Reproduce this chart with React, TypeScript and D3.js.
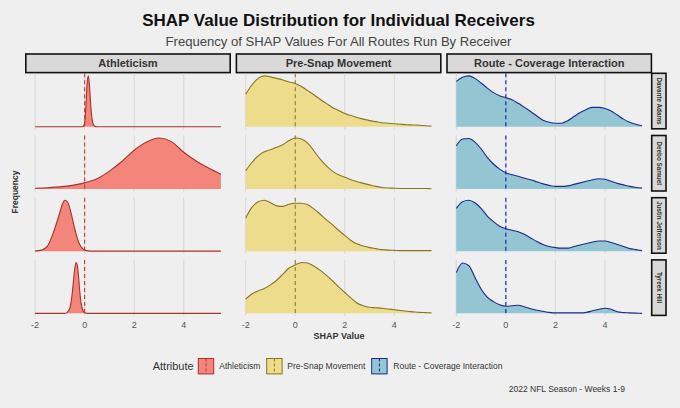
import * as d3 from "d3";

// ---- data (density scaled 0..1 per panel) ----
const receivers = ["Davante Adams", "Deebo Samuel", "Justin Jefferson", "Tyreek Hill"];
const attributes = ["Athleticism", "Pre-Snap Movement", "Route - Coverage Interaction"];
const xTicks = [-2, 0, 2, 4];

const grid025 = [
  -2, -1.75, -1.5, -1.25, -1, -0.75, -0.5, -0.25, 0, 0.25, 0.5, 0.75, 1, 1.25, 1.5, 1.75, 2,
  2.25, 2.5, 2.75, 3, 3.25, 3.5, 3.75, 4, 4.25, 4.5, 4.75, 5, 5.25, 5.5,
];

// Athleticism
const athAdamsX = [-2, -0.1, -0.05, 0, 0.05, 0.1, 0.15, 0.2, 0.25, 0.3, 0.35, 0.4, 0.5, 5.5];
const athAdamsY = [0, 0, 0.01, 0.08, 0.4, 0.85, 1.0, 0.78, 0.4, 0.15, 0.05, 0.015, 0, 0];
const athSamuelX = [-2, -1.5, -1, -0.5, 0, 0.5, 1, 1.5, 2, 2.5, 3, 3.5, 4, 4.5, 5, 5.5];
const athSamuelY = [0.015, 0.025, 0.04, 0.07, 0.12, 0.2, 0.35, 0.54, 0.76, 0.92, 1.0, 0.93, 0.72, 0.55, 0.41, 0.29];
const athJeffersonX = [-2, -1.75, -1.5, -1.25, -1, -0.9, -0.8, -0.7, -0.6, -0.5, -0.4, -0.3, -0.2, -0.1, 0, 0.25, 5.5];
const athJeffersonY = [0.005, 0.02, 0.1, 0.38, 0.76, 0.92, 1.0, 0.97, 0.85, 0.65, 0.44, 0.26, 0.13, 0.06, 0.02, 0, 0];
const athHillX = [-2, -0.8, -0.7, -0.6, -0.5, -0.45, -0.4, -0.35, -0.3, -0.25, -0.2, -0.15, -0.1, -0.05, 0, 0.1, 5.5];
const athHillY = [0, 0, 0.02, 0.1, 0.4, 0.65, 0.88, 1.0, 0.95, 0.75, 0.45, 0.22, 0.1, 0.04, 0.01, 0, 0];

// Pre-Snap Movement (on grid025)
const preAdams = [0.64, 0.82, 0.95, 1.0, 0.98, 0.95, 0.92, 0.88, 0.85, 0.79, 0.71, 0.63, 0.54, 0.46, 0.38, 0.32, 0.26, 0.22, 0.18, 0.15, 0.12, 0.1, 0.08, 0.07, 0.06, 0.05, 0.04, 0.035, 0.03, 0.02, 0.015];
const preSamuel = [0.36, 0.52, 0.65, 0.73, 0.77, 0.82, 0.87, 0.95, 1.0, 0.98, 0.9, 0.75, 0.59, 0.46, 0.35, 0.28, 0.23, 0.18, 0.14, 0.11, 0.08, 0.05, 0.03, 0.02, 0.015, 0.01, 0.01, 0.01, 0.01, 0.008, 0.005];
const preJefferson = [0.65, 0.86, 0.97, 1.0, 0.95, 0.89, 0.88, 0.92, 0.94, 0.94, 0.91, 0.83, 0.73, 0.62, 0.52, 0.41, 0.31, 0.21, 0.14, 0.1, 0.07, 0.05, 0.03, 0.02, 0.015, 0.01, 0.01, 0.01, 0.01, 0.01, 0.01];
const preHill = [0.28, 0.38, 0.44, 0.49, 0.56, 0.65, 0.77, 0.89, 0.95, 1.0, 0.99, 0.93, 0.85, 0.75, 0.64, 0.52, 0.41, 0.3, 0.2, 0.15, 0.12, 0.11, 0.1, 0.085, 0.07, 0.055, 0.04, 0.03, 0.02, 0.015, 0.01];

// Route - Coverage Interaction (on grid025)
const routeAdams = [0.89, 0.97, 1.0, 0.95, 0.86, 0.76, 0.67, 0.61, 0.57, 0.53, 0.46, 0.38, 0.3, 0.21, 0.13, 0.09, 0.07, 0.07, 0.12, 0.2, 0.28, 0.34, 0.38, 0.38, 0.36, 0.31, 0.23, 0.15, 0.09, 0.05, 0.02];
const routeSamuel = [0.85, 0.98, 0.99, 0.92, 0.79, 0.62, 0.49, 0.39, 0.32, 0.28, 0.25, 0.21, 0.18, 0.14, 0.1, 0.07, 0.05, 0.05, 0.06, 0.09, 0.12, 0.15, 0.18, 0.2, 0.19, 0.15, 0.11, 0.08, 0.05, 0.03, 0.02];
const routeJefferson = [0.84, 0.97, 1.0, 0.95, 0.84, 0.69, 0.58, 0.49, 0.44, 0.41, 0.38, 0.33, 0.26, 0.19, 0.13, 0.09, 0.07, 0.06, 0.06, 0.09, 0.12, 0.15, 0.18, 0.2, 0.2, 0.17, 0.13, 0.09, 0.05, 0.03, 0.01];
const routeHill = [0.8, 0.99, 0.94, 0.71, 0.48, 0.32, 0.23, 0.17, 0.14, 0.15, 0.16, 0.13, 0.09, 0.06, 0.04, 0.02, 0.01, 0.01, 0.01, 0.01, 0.01, 0.02, 0.05, 0.08, 0.1, 0.08, 0.03, 0.015, 0.01, 0.005, 0];

const fills = ["#f3857a", "#ecdc8c", "#93c5d3"];
const strokes = ["#a8312c", "#857523", "#1b2a8c"];
const dashColors = ["#c7372c", "#8d7c25", "#0d1fa0"];

type Pt = [number, number];
const zip = (xs: number[], ys: number[]): Pt[] => xs.map((x, i) => [x, ys[i]]);

// series[row][col]
const series: Pt[][][] = [
  [zip(athAdamsX, athAdamsY), zip(grid025, preAdams), zip(grid025, routeAdams)],
  [zip(athSamuelX, athSamuelY), zip(grid025, preSamuel), zip(grid025, routeSamuel)],
  [zip(athJeffersonX, athJeffersonY), zip(grid025, preJefferson), zip(grid025, routeJefferson)],
  [zip(athHillX, athHillY), zip(grid025, preHill), zip(grid025, routeHill)],
];

const W = 680;
const H = 408;
const FONT = "'Liberation Sans', Arial, Helvetica, sans-serif";

// layout
const colX = [25.8, 236.4, 447.0];
const panelW = 204.4;
const rowTop = 73.3;
const rowStep = 62.2;
const panelH = 56;
const stripTop = 54;
const stripH = 18.6;
const rStripX = 651.7;
const rStripW = 14.3;

export default function App() {
  const x = d3.scaleLinear().domain([-2.375, 5.875]).range([0, panelW]);
  const y = d3.scaleLinear().domain([-0.05, 1.05]).range([panelH, 0]);

  const area = d3
    .area<Pt>()
    .x((d) => x(d[0]))
    .y0(y(0))
    .y1((d) => y(d[1]))
    .curve(d3.curveMonotoneX);
  const line = d3
    .line<Pt>()
    .x((d) => x(d[0]))
    .y((d) => y(d[1]))
    .curve(d3.curveMonotoneX);

  const legendItems = [
    { label: attributes[0], x: 198.3, tx: 219.3 },
    { label: attributes[1], x: 266.7, tx: 287.3 },
    { label: attributes[2], x: 371.7, tx: 393.3 },
  ];

  return (
    <svg
      width={W}
      height={H}
      style={{ position: "fixed", left: 0, top: 0, fontFamily: FONT }}
    >
      <rect width={W} height={H} fill="#efefef" />

      {/* Title */}
      <text x={338.5} y={26} textAnchor="middle" fontSize={17} fontWeight="bold" fill="#111">
        SHAP Value Distribution for Individual Receivers
      </text>
      <text x={338.5} y={45.5} textAnchor="middle" fontSize={13.1} fill="#444">
        Frequency of SHAP Values For All Routes Run By Receiver
      </text>

      {/* Column strips */}
      {attributes.map((a, c) => (
        <g key={a} transform={`translate(${colX[c]},${stripTop})`}>
          <rect width={panelW} height={stripH} fill="#d9d9d9" stroke="#111" strokeWidth={1.6} />
          <text x={panelW / 2} y={stripH / 2 + 4} textAnchor="middle" fontSize={11} fontWeight="bold" fill="#333">
            {a}
          </text>
        </g>
      ))}

      {/* Row strips */}
      {receivers.map((r, i) => (
        <g key={r} transform={`translate(${rStripX},${rowTop + i * rowStep})`}>
          <rect width={rStripW} height={panelH - 0.5} fill="#d9d9d9" stroke="#111" strokeWidth={1.6} />
          <text
            transform={`translate(${rStripW / 2 - 2.3},${(panelH - 0.5) / 2}) rotate(90)`}
            textAnchor="middle"
            fontSize={6.3}
            fontWeight="bold"
            fill="#333"
          >
            {r}
          </text>
        </g>
      ))}

      {/* Panels */}
      {receivers.map((r, i) =>
        attributes.map((a, c) => (
          <g key={r + a} transform={`translate(${colX[c]},${rowTop + i * rowStep})`}>
            {xTicks.map((t) => (
              <line key={t} x1={x(t)} x2={x(t)} y1={0} y2={panelH} stroke="#d4d4d4" strokeWidth={0.9} />
            ))}
            <path d={area(series[i][c]) ?? ""} fill={fills[c]} />
            <path d={line(series[i][c]) ?? ""} fill="none" stroke={strokes[c]} strokeWidth={1.1} />
            <line
              x1={x(0)}
              x2={x(0)}
              y1={0}
              y2={panelH}
              stroke={dashColors[c]}
              strokeWidth={1.1}
              strokeDasharray="4,3"
            />
          </g>
        )),
      )}

      {/* X axes */}
      {attributes.map((a, c) => (
        <g key={a} transform={`translate(${colX[c]},${rowTop + 3 * rowStep + panelH})`}>
          {xTicks.map((t) => (
            <text key={t} x={x(t)} y={12} textAnchor="middle" fontSize={9} fill="#555">
              {t}
            </text>
          ))}
        </g>
      ))}

      <text x={339} y={339} textAnchor="middle" fontSize={9} fontWeight="bold" fill="#333">
        SHAP Value
      </text>
      <text transform="translate(18,192) rotate(-90)" textAnchor="middle" fontSize={8.5} fontWeight="bold" fill="#333">
        Frequency
      </text>

      {/* Legend */}
      <text x={152.7} y={370} fontSize={11} fill="#333">
        Attribute
      </text>
      {legendItems.map((d, c) => (
        <g key={d.label}>
          <rect x={d.x} y={358.5} width={15.4} height={15.4} fill={fills[c]} stroke={strokes[c]} strokeWidth={1} />
          <line
            x1={d.x + 7.7}
            x2={d.x + 7.7}
            y1={358.5}
            y2={373.9}
            stroke={dashColors[c]}
            strokeWidth={1}
            strokeDasharray="3,2"
          />
          <text x={d.tx} y={369.2} fontSize={8.5} fill="#333">
            {d.label}
          </text>
        </g>
      ))}

      {/* Caption */}
      <text x={625} y={392.3} textAnchor="end" fontSize={8.5} fill="#333">
        2022 NFL Season - Weeks 1-9
      </text>
    </svg>
  );
}
